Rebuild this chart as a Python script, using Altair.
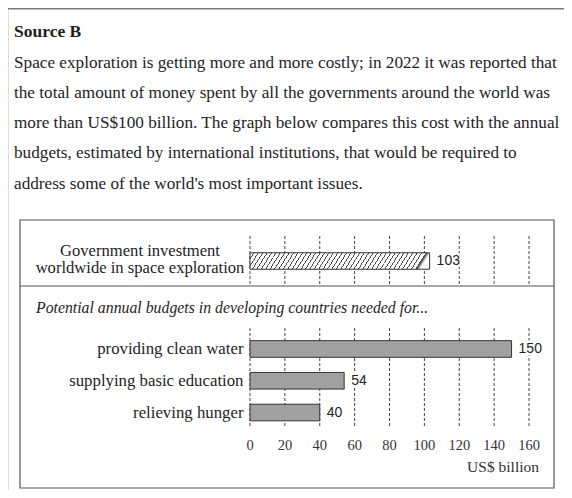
import altair as alt
import pandas as pd

# ---------------- data ----------------
heading = "Source B"
paragraph = [
    "Space exploration is getting more and more costly; in 2022 it was reported that",
    "the total amount of money spent by all the governments around the world was",
    "more than US$100 billion.  The graph below compares this cost with the annual",
    "budgets, estimated by international institutions, that would be required to",
    "address some of the world's most important issues.",
]
top_categories = ["Government investment worldwide in space exploration"]
top_label_lines = ["Government investment", "worldwide in space exploration"]
top_values = [103]
section_title = "Potential annual budgets in developing countries needed for..."
categories = ["providing clean water", "supplying basic education", "relieving hunger"]
values = [150, 54, 40]
ticks = [0, 20, 40, 60, 80, 100, 120, 140, 160]
unit_label = "US$ billion"

# ---------------- layout / style ----------------
W, H = 556, 482
SERIF = "Liberation Serif"
SANS = "Liberation Sans"
TXT = "#1e1e1e"
xscale = alt.Scale(domain=[0, 160], range=[242, 521], nice=False, zero=False)
one = pd.DataFrame({"d": [0]})
tick_df = pd.DataFrame({"tick": ticks})

# hatch fill as a hard-stop gradient
period = 0.0245
lw = 0.0055
stops = []
k = 0
while (k + 1) * period <= 1.0:
    a = k * period
    stops += [
        alt.GradientStop(offset=round(a, 5), color="#ffffff"),
        alt.GradientStop(offset=round(a + period - lw, 5), color="#ffffff"),
        alt.GradientStop(offset=round(a + period - lw, 5), color="#4a4a4a"),
        alt.GradientStop(offset=round(a + period, 5), color="#4a4a4a"),
    ]
    k += 1
stops.append(alt.GradientStop(offset=1, color="#ffffff"))
hatch = alt.LinearGradient(gradient="linear", stops=stops, x1=0, y1=0, x2=1, y2=0.058)

layers = []

# top rule of the page
layers.append(alt.Chart(one).mark_rule(color="#7a7a7a", strokeWidth=1.5).encode(
    x=alt.value(0), x2=alt.value(W), y=alt.value(0.75)))

# heading + paragraph
layers.append(alt.Chart(one).mark_text(font=SERIF, fontSize=17.5, fontWeight="bold", align="left",
                                       baseline="middle", color=TXT).encode(
    x=alt.value(6), y=alt.value(24), text=alt.value(heading)))
for i, line in enumerate(paragraph):
    layers.append(alt.Chart(one).mark_text(font=SERIF, fontSize=17.2, align="left",
                                           baseline="middle", color=TXT).encode(
        x=alt.value(6), y=alt.value(54.5 + i * 30.3), text=alt.value(line)))

# box and divider
layers.append(alt.Chart(one).mark_rect(fillOpacity=0, stroke="#555555", strokeWidth=1.2).encode(
    x=alt.value(12), x2=alt.value(546), y=alt.value(212), y2=alt.value(480)))
layers.append(alt.Chart(one).mark_rule(color="#555555", strokeWidth=1.2).encode(
    x=alt.value(12), x2=alt.value(546), y=alt.value(278)))

# grid lines
grid_style = dict(color="#444444", strokeWidth=1, strokeDash=[3, 2])
layers.append(alt.Chart(tick_df).mark_rule(**grid_style).encode(
    x=alt.X("tick:Q", scale=xscale, axis=None), y=alt.value(228), y2=alt.value(277)))
layers.append(alt.Chart(tick_df).mark_rule(**grid_style).encode(
    x=alt.X("tick:Q", scale=xscale, axis=None), y=alt.value(320), y2=alt.value(419)))

# section title
layers.append(alt.Chart(one).mark_text(font=SERIF, fontSize=15.8, fontStyle="italic", align="left",
                                       baseline="middle", color=TXT).encode(
    x=alt.value(28), y=alt.value(300), text=alt.value(section_title)))

# tick labels and unit
layers.append(alt.Chart(tick_df).mark_text(font=SERIF, fontSize=14.5, align="center",
                                           baseline="middle", color="#333333").encode(
    x=alt.X("tick:Q", scale=xscale, axis=None), y=alt.value(437.5), text="tick:Q"))
layers.append(alt.Chart(one).mark_text(font=SERIF, fontSize=15.5, align="right",
                                       baseline="middle", color="#333333").encode(
    x=alt.value(531), y=alt.value(459), text=alt.value(unit_label)))

decor = alt.layer(*layers)

# top (space) bar group
top_df = pd.DataFrame({"item": top_categories, "value": top_values,
                       "label": ["\n".join(top_label_lines)]})
ytop = alt.Y("item:N", axis=None,
             scale=alt.Scale(domain=top_categories, range=[237.25, 268.75],
                             paddingInner=0.476, paddingOuter=0.238))
tb = alt.Chart(top_df)
top_group = alt.layer(
    tb.mark_bar(fill=hatch, stroke="#333333", strokeWidth=1).encode(
        x=alt.X("value:Q", scale=xscale, axis=None), y=ytop),
    tb.mark_text(font=SANS, fontSize=14, align="left", baseline="middle", dx=7,
                 color="white", stroke="white", strokeWidth=5).encode(
        x=alt.X("value:Q", scale=xscale, axis=None), y=ytop, text="value:Q"),
    tb.mark_text(font=SANS, fontSize=14, align="left", baseline="middle", dx=7, color=TXT).encode(
        x=alt.X("value:Q", scale=xscale, axis=None), y=ytop, text="value:Q"),
    tb.mark_text(font=SERIF, fontSize=16.6, align="center", baseline="middle", lineBreak="\n",
                 lineHeight=17, dy=-10, color=TXT).encode(
        x=alt.value(132), y=ytop, text="label:N"),
)

# lower bars group
low_df = pd.DataFrame({"item": categories, "value": values})
ylow = alt.Y("item:N", axis=None, sort=categories,
             scale=alt.Scale(domain=categories, range=[325.1, 420.4],
                             paddingInner=0.476, paddingOuter=0.238))
lb = alt.Chart(low_df)
low_group = alt.layer(
    lb.mark_bar(fill="#a0a0a0", stroke="#333333", strokeWidth=1).encode(
        x=alt.X("value:Q", scale=xscale, axis=None), y=ylow),
    lb.mark_text(font=SANS, fontSize=14, align="left", baseline="middle", dx=7,
                 color="white", stroke="white", strokeWidth=5).encode(
        x=alt.X("value:Q", scale=xscale, axis=None), y=ylow, text="value:Q"),
    lb.mark_text(font=SANS, fontSize=14, align="left", baseline="middle", dx=7, color=TXT).encode(
        x=alt.X("value:Q", scale=xscale, axis=None), y=ylow, text="value:Q"),
    lb.mark_text(font=SERIF, fontSize=16.8, align="right", baseline="middle", color=TXT).encode(
        x=alt.value(235.5), y=ylow, text="item:N"),
)

chart = alt.layer(decor, top_group, low_group).resolve_scale(y="independent").properties(
    width=W, height=H, autosize="none", padding=0
).configure_view(stroke=None).configure(background="white")

chart.save("out.html", embed_options={"renderer": "svg", "actions": False})
